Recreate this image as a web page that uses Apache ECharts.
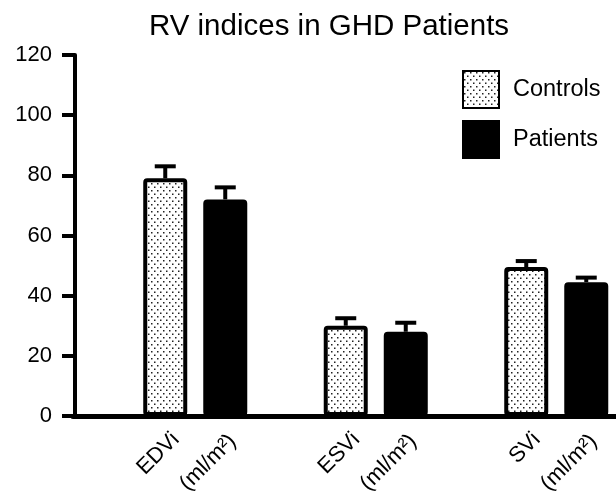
<!DOCTYPE html>
<html>
<head>
<meta charset="utf-8">
<script src="https://cdn.jsdelivr.net/npm/echarts@6/dist/echarts.min.js"></script>
<style>html,body{margin:0;padding:0;background:#fff}#c{width:616px;height:495px}</style>
</head>
<body>
<div id="c"></div>
<script>
var categories = ['EDVi', 'ESVi', 'SVi'];
var unitLabel = '(ml/m\u00b2)';
var controls = [79, 30, 49.5];
var controlsErr = [4, 2.5, 2];
var patients = [72, 28, 44.5];
var patientsErr = [4, 3, 1.5];
var yTicks = [0, 20, 40, 60, 80, 100, 120];

var FONT = '"Liberation Sans", Arial, sans-serif';

// dotted pattern
var pc = document.createElement('canvas');
pc.width = 6; pc.height = 7;
var g = pc.getContext('2d');
g.fillStyle = '#fff'; g.fillRect(0, 0, 6, 7);
g.fillStyle = '#222';
g.fillRect(1, 1, 1.5, 1.5);
g.fillRect(4, 4.5, 1.5, 1.5);
var dots = { image: pc, repeat: 'repeat' };

function errSeries(name, means, errs, dx) {
  return {
    type: 'custom',
    name: name + ' err',
    xAxisIndex: 0, yAxisIndex: 0,
    z: 1,
    silent: true,
    data: means.map(function (m, i) { return [i, m, errs[i]]; }),
    encode: { x: 0, y: 1 },
    renderItem: function (params, api) {
      var base = api.coord([api.value(0), api.value(1)]);
      var top = api.coord([api.value(0), api.value(1) + api.value(2)]);
      var x = base[0] + dx;
      var style = { stroke: '#000', lineWidth: 4, fill: null };
      return {
        type: 'group',
        children: [
          { type: 'line', shape: { x1: x, y1: base[1], x2: x, y2: top[1] }, style: style },
          { type: 'line', shape: { x1: x - 10.5, y1: top[1], x2: x + 10.5, y2: top[1] }, style: style }
        ]
      };
    }
  };
}

var labelBase = {
  show: true,
  rotate: 45,
  align: 'right',
  verticalAlign: 'middle',
  color: '#000',
  fontSize: 22,
  fontFamily: FONT
};

var chart = echarts.init(document.getElementById('c'), null, { renderer: 'canvas' });
chart.setOption({
  animation: false,
  backgroundColor: '#fff',
  title: {
    text: 'RV indices in GHD Patients',
    left: 324, top: 7, textAlign: 'center',
    textStyle: { fontFamily: FONT, fontSize: 29.5, fontWeight: 'normal', color: '#000' }
  },
  legend: {
    orient: 'vertical',
    left: 462, top: 70,
    padding: 0,
    icon: 'rect',
    itemWidth: 36, itemHeight: 37,
    itemGap: 11,
    data: ['Controls', 'Patients'],
    textStyle: { fontFamily: FONT, fontSize: 23.5, color: '#000', padding: [0, 0, 0, 9] }
  },
  grid: [
    { left: 105, width: 541.5, top: 55, bottom: 79, outerBoundsMode: 'none' },
    { left: 73, width: 34, top: 55, bottom: 79, outerBoundsMode: 'none' }
  ],
  xAxis: [
    {
      type: 'category', data: categories, gridIndex: 0,
      axisLine: { lineStyle: { color: '#000', width: 5 } },
      axisTick: { show: false },
      axisLabel: { show: false }
    },
    {
      type: 'value', gridIndex: 1, min: 0, max: 1,
      axisLine: { show: true, lineStyle: { color: '#000', width: 5 } },
      axisTick: { show: false }, axisLabel: { show: false }, splitLine: { show: false }
    }
  ],
  yAxis: [
    {
      type: 'value', gridIndex: 0, min: yTicks[0], max: yTicks[yTicks.length - 1], interval: 20,
      offset: 30,
      axisLine: { show: true, lineStyle: { color: '#000', width: 4 } },
      axisTick: { show: true, length: 13, lineStyle: { color: '#000', width: 4 } },
      axisLabel: { color: '#000', fontSize: 22, fontFamily: FONT, margin: 23 },
      splitLine: { show: false }
    },
    {
      type: 'value', gridIndex: 1, min: 0, max: 120, show: false
    }
  ],
  series: [
    errSeries('Controls', controls, controlsErr, -30),
    errSeries('Patients', patients, patientsErr, 30),
    {
      type: 'bar', name: 'Controls', data: controls,
      barWidth: 44, barGap: '36.4%', z: 2,
      itemStyle: { color: dots, borderColor: '#000', borderWidth: 4, borderRadius: 2 },
      label: Object.assign({}, labelBase, {
        position: ['70%', '100%'], offset: [-13, 15.5],
        formatter: function (p) { return p.name; }
      })
    },
    {
      type: 'bar', name: 'Patients', data: patients,
      barWidth: 44, z: 2,
      itemStyle: { color: '#000', borderColor: '#000', borderWidth: 4, borderRadius: 2 },
      label: Object.assign({}, labelBase, {
        position: ['75%', '100%'], offset: [-18, 13],
        formatter: function () { return unitLabel; }
      })
    }
  ]
});
</script>
</body>
</html>
